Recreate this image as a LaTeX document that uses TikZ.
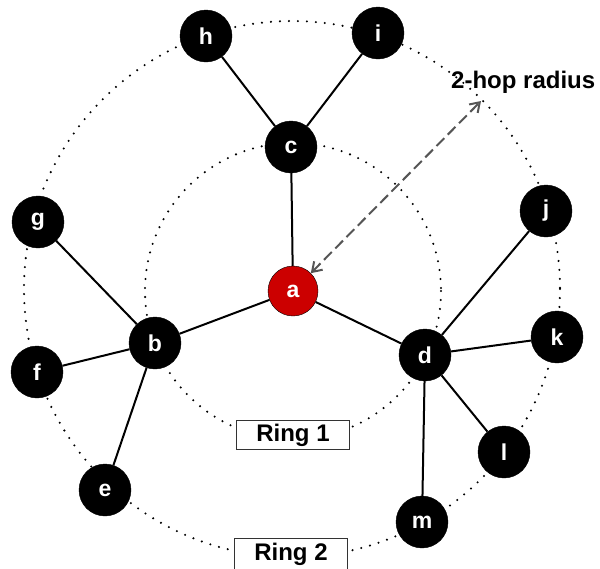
\documentclass[tikz,border=0pt]{standalone}
\usepackage{fontspec}
\setmainfont{Liberation Sans}
\usetikzlibrary{arrows.meta}
\definecolor{nodered}{HTML}{CC0000}
\definecolor{arrowgray}{HTML}{555555}
\tikzset{
  vert/.style={circle, fill=black, draw=black, minimum size=52pt, inner sep=0pt, text=white, font=\fontsize{23}{25}\selectfont\bfseries},
  center/.style={vert, fill=nodered, minimum size=50pt},
  edge/.style={line width=2pt, black},
  ring/.style={line width=2.3pt, line cap=round, dash pattern=on 0pt off 9pt, black},
  ringlabel/.style={draw=black!80, line width=1pt, fill=white, minimum width=113pt, minimum height=29pt, inner sep=0pt, font=\fontsize{24}{26}\selectfont\bfseries},
  hop/.style={arrowgray, line width=2pt, dash pattern=on 11pt off 5pt, {Straight Barb[length=9pt,width=12pt]}-{Straight Barb[length=9pt,width=12pt]}}
}
\begin{document}
\begin{tikzpicture}[x=1pt,y=-1pt]
\useasboundingbox (0,0) rectangle (600,568);
\coordinate (o) at (293,291);
% rings
\draw[ring] (o) circle[radius=148];
\draw[ring] (292,289) circle[radius=268];
\node[ringlabel] (r1) at (293,435) {Ring 1};
\node[ringlabel, minimum height=31pt] (r2) at (291,554) {Ring 2};
% nodes
\node[center] (a) at (293,291) {a};
\node[vert] (b) at (155,343) {b};
\node[vert] (c) at (291,147) {c};
\node[vert] (d) at (425,355) {d};
\node[vert] (e) at (105,490) {e};
\node[vert] (f) at (37,372) {f};
\node[vert] (g) at (38,222) {g};
\node[vert] (h) at (206,36) {h};
\node[vert] (i) at (378,33) {i};
\node[vert] (j) at (546,211) {j};
\node[vert] (k) at (557,337) {k};
\node[vert] (l) at (504,452) {l};
\node[vert] (m) at (422,522) {m};
% edges
\draw[edge] (a) -- (b);
\draw[edge] (a) -- (c);
\draw[edge] (a) -- (d);
\draw[edge] (b) -- (e);
\draw[edge] (b) -- (f);
\draw[edge] (b) -- (g);
\draw[edge] (c) -- (h);
\draw[edge] (c) -- (i);
\draw[edge] (d) -- (j);
\draw[edge] (d) -- (k);
\draw[edge] (d) -- (l);
\draw[edge] (d) -- (m);
% 2-hop arrow
\coordinate (tip) at (481,101);
\draw[hop] (a.45) -- (tip);
\node[font=\fontsize{24}{26}\selectfont\bfseries, anchor=west, inner sep=0pt] (lbl) at (451,82) {2-hop radius};
\end{tikzpicture}
\end{document}
